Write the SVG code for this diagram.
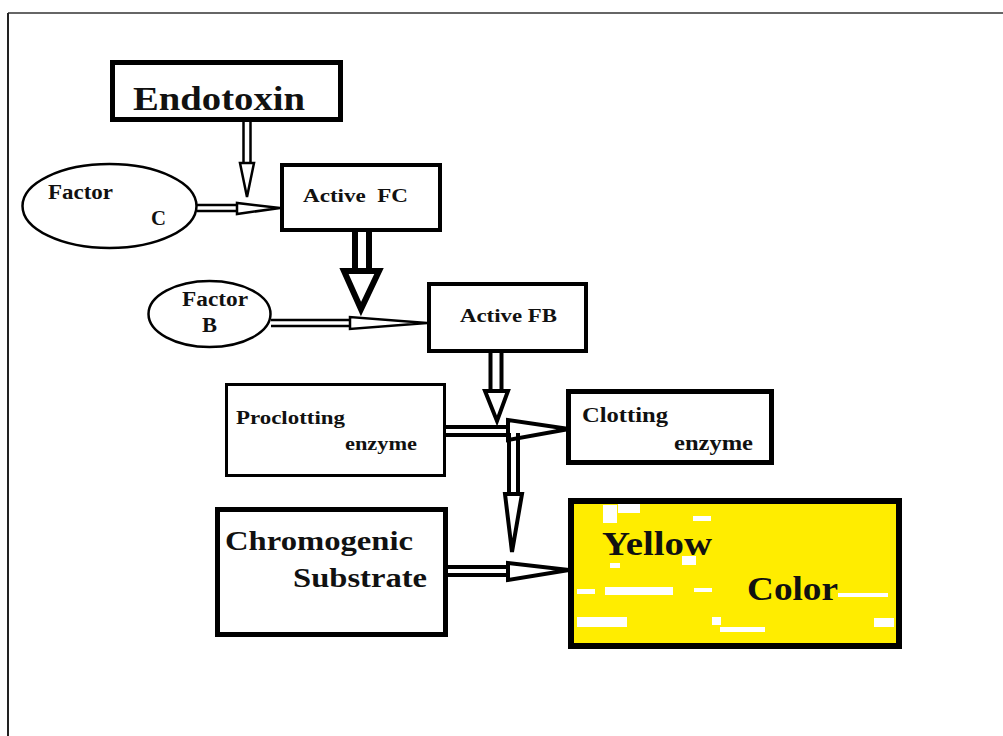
<svg xmlns="http://www.w3.org/2000/svg" width="1003" height="736" viewBox="0 0 1003 736">
<style>
.t{font-family:"Liberation Serif","Times New Roman",serif;font-weight:bold;fill:#111}
.box{fill:#fff;stroke:#000}
.ell{fill:#fff;stroke:#000;stroke-width:2.5}
.sh{fill:none;stroke:#000}
.hd{fill:#fff;stroke:#000;stroke-linejoin:miter}
.spk{fill:#fff}
</style>
<rect x="0" y="0" width="1003" height="736" fill="#fff"/>
<line x1="8" y1="13" x2="1003" y2="13" stroke="#666" stroke-width="2"/>
<line x1="8" y1="13" x2="8" y2="736" stroke="#222" stroke-width="2"/>

<g id="connectors">
  <!-- Endotoxin -> junction -->
  <path class="sh" stroke-width="2.5" d="M243.5,122 V163 M250.5,122 V163"/>
  <polygon class="hd" stroke-width="2.5" points="240,163 254,163 247,197"/>
  <!-- Factor C -> Active FC -->
  <path class="sh" stroke-width="2.5" d="M197,205 H237 M197,211 H237"/>
  <polygon class="hd" stroke-width="2.5" points="237,203 237,214 280,208"/>
  <!-- Active FC -> Active FB (thick) -->
  <path class="sh" stroke-width="6" d="M355,232 V270 M369,232 V270"/>
  <polygon class="hd" stroke-width="6" points="344,271 379,271 361,309"/>
  <!-- Factor B -> Active FB -->
  <path class="sh" stroke-width="2.5" d="M271,320 H350 M271,326 H350"/>
  <polygon class="hd" stroke-width="2.5" points="350,317 350,329 427,323"/>
  <!-- Active FB -> junction -->
  <path class="sh" stroke-width="4" d="M490.5,353 V390 M501.5,353 V390"/>
  <polygon class="hd" stroke-width="4" points="485,391 508,391 497,421"/>
  <!-- Proclotting -> Clotting enzyme -->
  <path class="sh" stroke-width="4" d="M446,427 H508 M446,435 H508"/>
  <polygon class="hd" stroke-width="4" points="508,420 508,440 569,429"/>
  <!-- junction -> Yellow Color -->
  <path class="sh" stroke-width="4" d="M509,433 V493 M518,433 V493"/>
  <polygon class="hd" stroke-width="4" points="505,494 522,494 512,552"/>
  <!-- Chromogenic -> Yellow Color -->
  <path class="sh" stroke-width="4" d="M448,567 H508 M448,575 H508"/>
  <polygon class="hd" stroke-width="4" points="508,563 508,580 569,570"/>
</g>

<g id="endotoxin">
  <rect class="box" x="112.5" y="62.5" width="228" height="57" stroke-width="5"/>
  <text class="t" x="133" y="110" font-size="34" textLength="172" lengthAdjust="spacingAndGlyphs">Endotoxin</text>
</g>

<g id="factor-c">
  <ellipse class="ell" cx="109.5" cy="206" rx="87" ry="42"/>
  <text class="t" x="48" y="199" font-size="20" textLength="65" lengthAdjust="spacingAndGlyphs">Factor</text>
  <text class="t" x="151" y="225" font-size="20" textLength="15" lengthAdjust="spacingAndGlyphs">C</text>
</g>

<g id="active-fc">
  <rect class="box" x="282" y="165" width="158" height="65" stroke-width="4"/>
  <text class="t" x="303" y="202" font-size="19" textLength="105" lengthAdjust="spacingAndGlyphs" xml:space="preserve">Active  FC</text>
</g>

<g id="factor-b">
  <ellipse class="ell" cx="209.5" cy="314" rx="61" ry="33"/>
  <text class="t" x="182" y="306" font-size="20" textLength="66" lengthAdjust="spacingAndGlyphs">Factor</text>
  <text class="t" x="202" y="332" font-size="20" textLength="15" lengthAdjust="spacingAndGlyphs">B</text>
</g>

<g id="active-fb">
  <rect class="box" x="429" y="284" width="157" height="67" stroke-width="4"/>
  <text class="t" x="460" y="322" font-size="19" textLength="97" lengthAdjust="spacingAndGlyphs">Active FB</text>
</g>

<g id="proclotting-enzyme">
  <rect class="box" x="226.5" y="384.5" width="218" height="91" stroke-width="3"/>
  <text class="t" x="236" y="424" font-size="19" textLength="109" lengthAdjust="spacingAndGlyphs">Proclotting</text>
  <text class="t" x="345" y="450" font-size="19" textLength="72" lengthAdjust="spacingAndGlyphs">enzyme</text>
</g>

<g id="clotting-enzyme">
  <rect class="box" x="568.5" y="391.5" width="203" height="71" stroke-width="5"/>
  <text class="t" x="582" y="422" font-size="21" textLength="86" lengthAdjust="spacingAndGlyphs">Clotting</text>
  <text class="t" x="674" y="450" font-size="21" textLength="79" lengthAdjust="spacingAndGlyphs">enzyme</text>
</g>

<g id="chromogenic-substrate">
  <rect class="box" x="217.5" y="509.5" width="228" height="125" stroke-width="5"/>
  <text class="t" x="225" y="550" font-size="28" textLength="188" lengthAdjust="spacingAndGlyphs">Chromogenic</text>
  <text class="t" x="293" y="587" font-size="28" textLength="134" lengthAdjust="spacingAndGlyphs">Substrate</text>
</g>

<g id="yellow-color">
  <rect x="571" y="501" width="328" height="145" fill="#FFED00" stroke="#000" stroke-width="6"/>
  <rect class="spk" x="603" y="505" width="14" height="18"/>
  <rect class="spk" x="618" y="504" width="22" height="9"/>
  <rect class="spk" x="693" y="516" width="18" height="5"/>
  <rect class="spk" x="610" y="563" width="10" height="5"/>
  <rect class="spk" x="682" y="556" width="14" height="9"/>
  <rect class="spk" x="577" y="589" width="18" height="5"/>
  <rect class="spk" x="605" y="587" width="68" height="8"/>
  <rect class="spk" x="694" y="588" width="18" height="4"/>
  <rect class="spk" x="577" y="617" width="50" height="10"/>
  <rect class="spk" x="712" y="617" width="9" height="8"/>
  <rect class="spk" x="720" y="627" width="45" height="5"/>
  <rect class="spk" x="838" y="593" width="50" height="4"/>
  <rect class="spk" x="874" y="618" width="20" height="9"/>
  <text class="t" x="602" y="555" font-size="34" textLength="110" lengthAdjust="spacingAndGlyphs">Yellow</text>
  <text class="t" x="747" y="600" font-size="34" textLength="91" lengthAdjust="spacingAndGlyphs">Color</text>
</g>
</svg>
